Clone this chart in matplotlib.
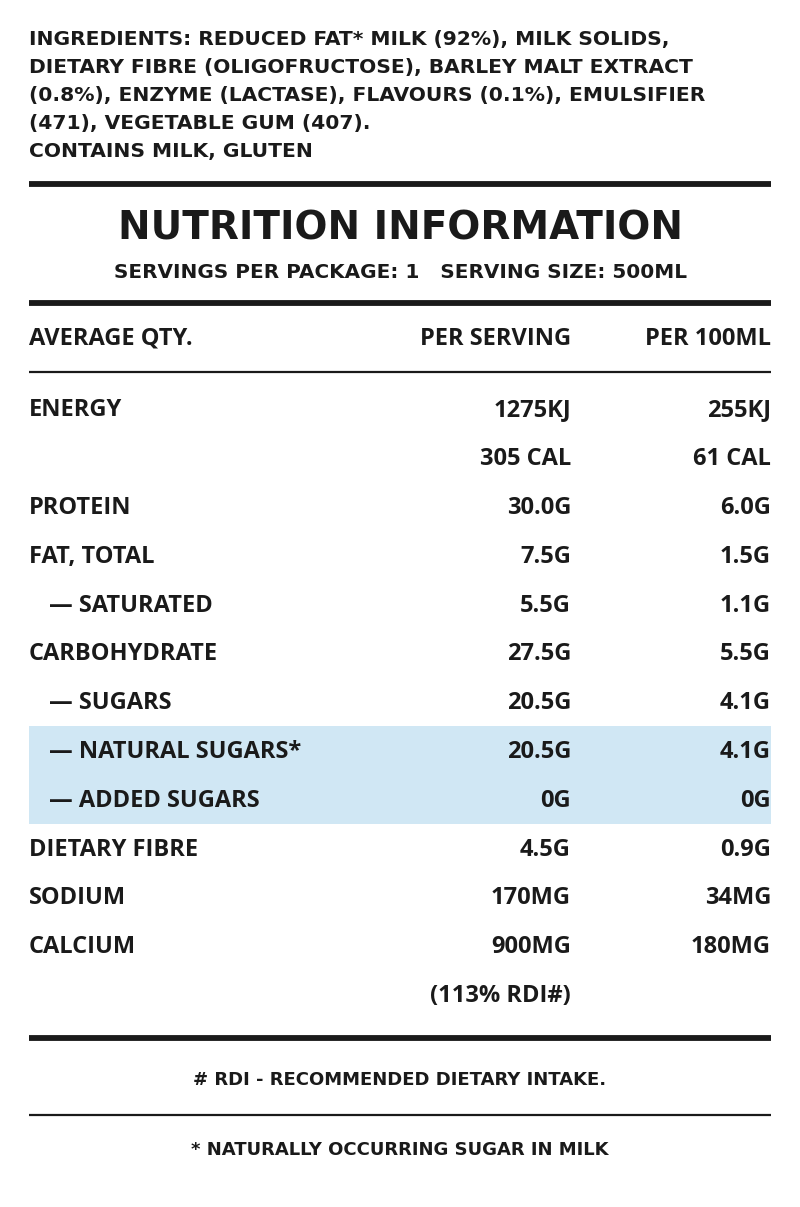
import matplotlib
matplotlib.use("Agg")
import matplotlib.pyplot as plt
from matplotlib.patches import Rectangle

# ---- data ----
ingredients = [
    "INGREDIENTS: REDUCED FAT* MILK (92%), MILK SOLIDS,",
    "DIETARY FIBRE (OLIGOFRUCTOSE), BARLEY MALT EXTRACT",
    "(0.8%), ENZYME (LACTASE), FLAVOURS (0.1%), EMULSIFIER",
    "(471), VEGETABLE GUM (407).",
    "CONTAINS MILK, GLUTEN",
]
title = "NUTRITION INFORMATION"
subtitle = "SERVINGS PER PACKAGE: 1   SERVING SIZE: 500ML"
headers = ["AVERAGE QTY.", "PER SERVING", "PER 100ML"]

labels = ["ENERGY", "", "PROTEIN", "FAT, TOTAL", "— SATURATED", "CARBOHYDRATE",
          "— SUGARS", "— NATURAL SUGARS*", "— ADDED SUGARS", "DIETARY FIBRE",
          "SODIUM", "CALCIUM", ""]
per_serving = ["1275KJ", "305 CAL", "30.0G", "7.5G", "5.5G", "27.5G", "20.5G",
               "20.5G", "0G", "4.5G", "170MG", "900MG", "(113% RDI#)"]
per_100ml = ["255KJ", "61 CAL", "6.0G", "1.5G", "1.1G", "5.5G", "4.1G",
             "4.1G", "0G", "0.9G", "34MG", "180MG", ""]
highlight = [7, 8]

footnotes = ["# RDI - RECOMMENDED DIETARY INTAKE.", "* NATURALLY OCCURRING SUGAR IN MILK"]

# ---- layout ----
ink = "#1a1a1a"
blue = "#d0e7f4"
left, right, col2 = 29, 771, 571

fig = plt.figure(figsize=(8, 12.07), dpi=100)
ax = fig.add_axes([0, 0, 1, 1])
ax.set_xlim(0, 800)
ax.set_ylim(1207, 0)
ax.axis("off")

dj = "DejaVu Sans"
tb = "Open Sans"
fs = 17

for i, line in enumerate(ingredients):
    ax.text(left, 39 + i * 28, line, fontsize=14.6, fontweight="bold", family=dj,
            color=ink, va="center", ha="left")

ax.plot([left, right], [184, 184], color=ink, lw=4.2, solid_capstyle="butt")
ax.text(400, 228, title, fontsize=28, fontweight="bold", family=dj, color=ink,
        ha="center", va="center")
ax.text(400, 272, subtitle, fontsize=14.4, fontweight="bold", family=dj, color=ink,
        ha="center", va="center")
ax.plot([left, right], [303, 303], color=ink, lw=4.2, solid_capstyle="butt")

ax.text(left, 339, headers[0], fontsize=fs, fontweight="bold", family=tb, color=ink,
        ha="left", va="center")
ax.text(col2, 339, headers[1], fontsize=fs, fontweight="bold", family=tb, color=ink,
        ha="right", va="center")
ax.text(right, 339, headers[2], fontsize=fs, fontweight="bold", family=tb, color=ink,
        ha="right", va="center")
ax.plot([left, right], [372, 372], color=ink, lw=1.6, solid_capstyle="butt")

row0, step = 409, 48.8
band_top = row0 + highlight[0] * step - step / 2
ax.add_patch(Rectangle((left, band_top), right - left, step * len(highlight),
                       facecolor=blue, edgecolor="none", zorder=0))

for i, (lab, a, b) in enumerate(zip(labels, per_serving, per_100ml)):
    y = row0 + i * step + 1.5
    x = left + 20 if lab.startswith("—") else left
    ax.text(x, y, lab, fontsize=fs, fontweight="bold", family=tb, color=ink,
            ha="left", va="center")
    ax.text(col2, y, a, fontsize=fs, fontweight="bold", family=tb, color=ink,
            ha="right", va="center")
    ax.text(right, y, b, fontsize=fs, fontweight="bold", family=tb, color=ink,
            ha="right", va="center")

ax.plot([left, right], [1038, 1038], color=ink, lw=4.2, solid_capstyle="butt")
ax.text(400, 1080, footnotes[0], fontsize=13, fontweight="bold", family=dj, color=ink,
        ha="center", va="center")
ax.plot([left, right], [1115, 1115], color=ink, lw=1.6, solid_capstyle="butt")
ax.text(400, 1150, footnotes[1], fontsize=13, fontweight="bold", family=dj, color=ink,
        ha="center", va="center")

fig.savefig("out.png", dpi=100, facecolor="white")
